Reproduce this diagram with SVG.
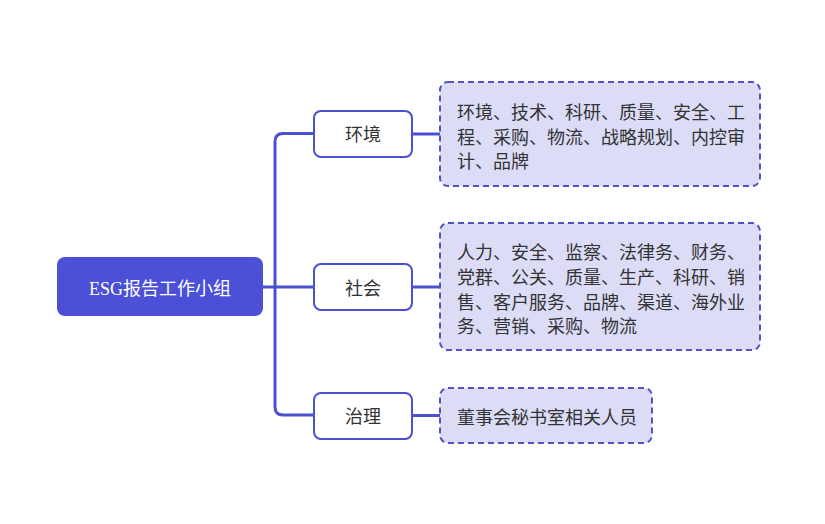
<svg xmlns="http://www.w3.org/2000/svg" width="825" height="524" viewBox="0 0 825 524">
<style>
.t{font-family:"Noto Sans CJK SC","Noto Sans",sans-serif;font-size:18px;fill:#333333}
.root{font-family:"Liberation Serif","Noto Sans CJK SC",serif;font-size:18px;fill:#ffffff}
.br{fill:#ffffff;stroke:#4b50d3;stroke-width:2}
.leaf{fill:#dcdcf7;stroke:#5252c2;stroke-width:2;stroke-dasharray:6 4}
.c{fill:none;stroke:#4b50d3;stroke-width:3}
</style>
<rect width="825" height="524" fill="#ffffff"/>
<g id="connectors">
<path class="c" d="M263 287 H314"/>
<path class="c" d="M314 133.5 H283 Q275 133.5 275 141.5 V407 Q275 415 283 415 H314"/>
<path class="c" d="M412 134 H440"/>
<path class="c" d="M412 287 H440"/>
<path class="c" d="M412 415.5 H440"/>
</g>
<g id="root">
<rect x="57" y="257" width="206" height="59" rx="8" fill="#4b50d6"/>
<text class="root" x="160" y="295" text-anchor="middle">ESG报告工作小组</text>
</g>
<g id="env">
<rect class="br" x="314" y="111" width="98" height="46" rx="7"/>
<text class="t" x="363" y="141" text-anchor="middle">环境</text>
</g>
<g id="soc">
<rect class="br" x="314" y="264" width="98" height="46" rx="7"/>
<text class="t" x="363" y="295" text-anchor="middle">社会</text>
</g>
<g id="gov">
<rect class="br" x="314" y="393" width="98" height="46" rx="7"/>
<text class="t" x="363" y="423" text-anchor="middle">治理</text>
</g>
<g id="env-leaf">
<rect class="leaf" x="440" y="82" width="320" height="104" rx="8"/>
<text class="t"><tspan x="457" y="119">环境、技术、科研、质量、安全、工</tspan><tspan x="457" y="143.5">程、采购、物流、战略规划、内控审</tspan><tspan x="457" y="168">计、品牌</tspan></text>
</g>
<g id="soc-leaf">
<rect class="leaf" x="440" y="223" width="320" height="127" rx="8"/>
<text class="t"><tspan x="457" y="259">人力、安全、监察、法律务、财务、</tspan><tspan x="457" y="284">党群、公关、质量、生产、科研、销</tspan><tspan x="457" y="308.5">售、客户服务、品牌、渠道、海外业</tspan><tspan x="457" y="333">务、营销、采购、物流</tspan></text>
</g>
<g id="gov-leaf">
<rect class="leaf" x="440" y="388" width="212" height="55" rx="8"/>
<text class="t" x="457" y="424">董事会秘书室相关人员</text>
</g>
</svg>
